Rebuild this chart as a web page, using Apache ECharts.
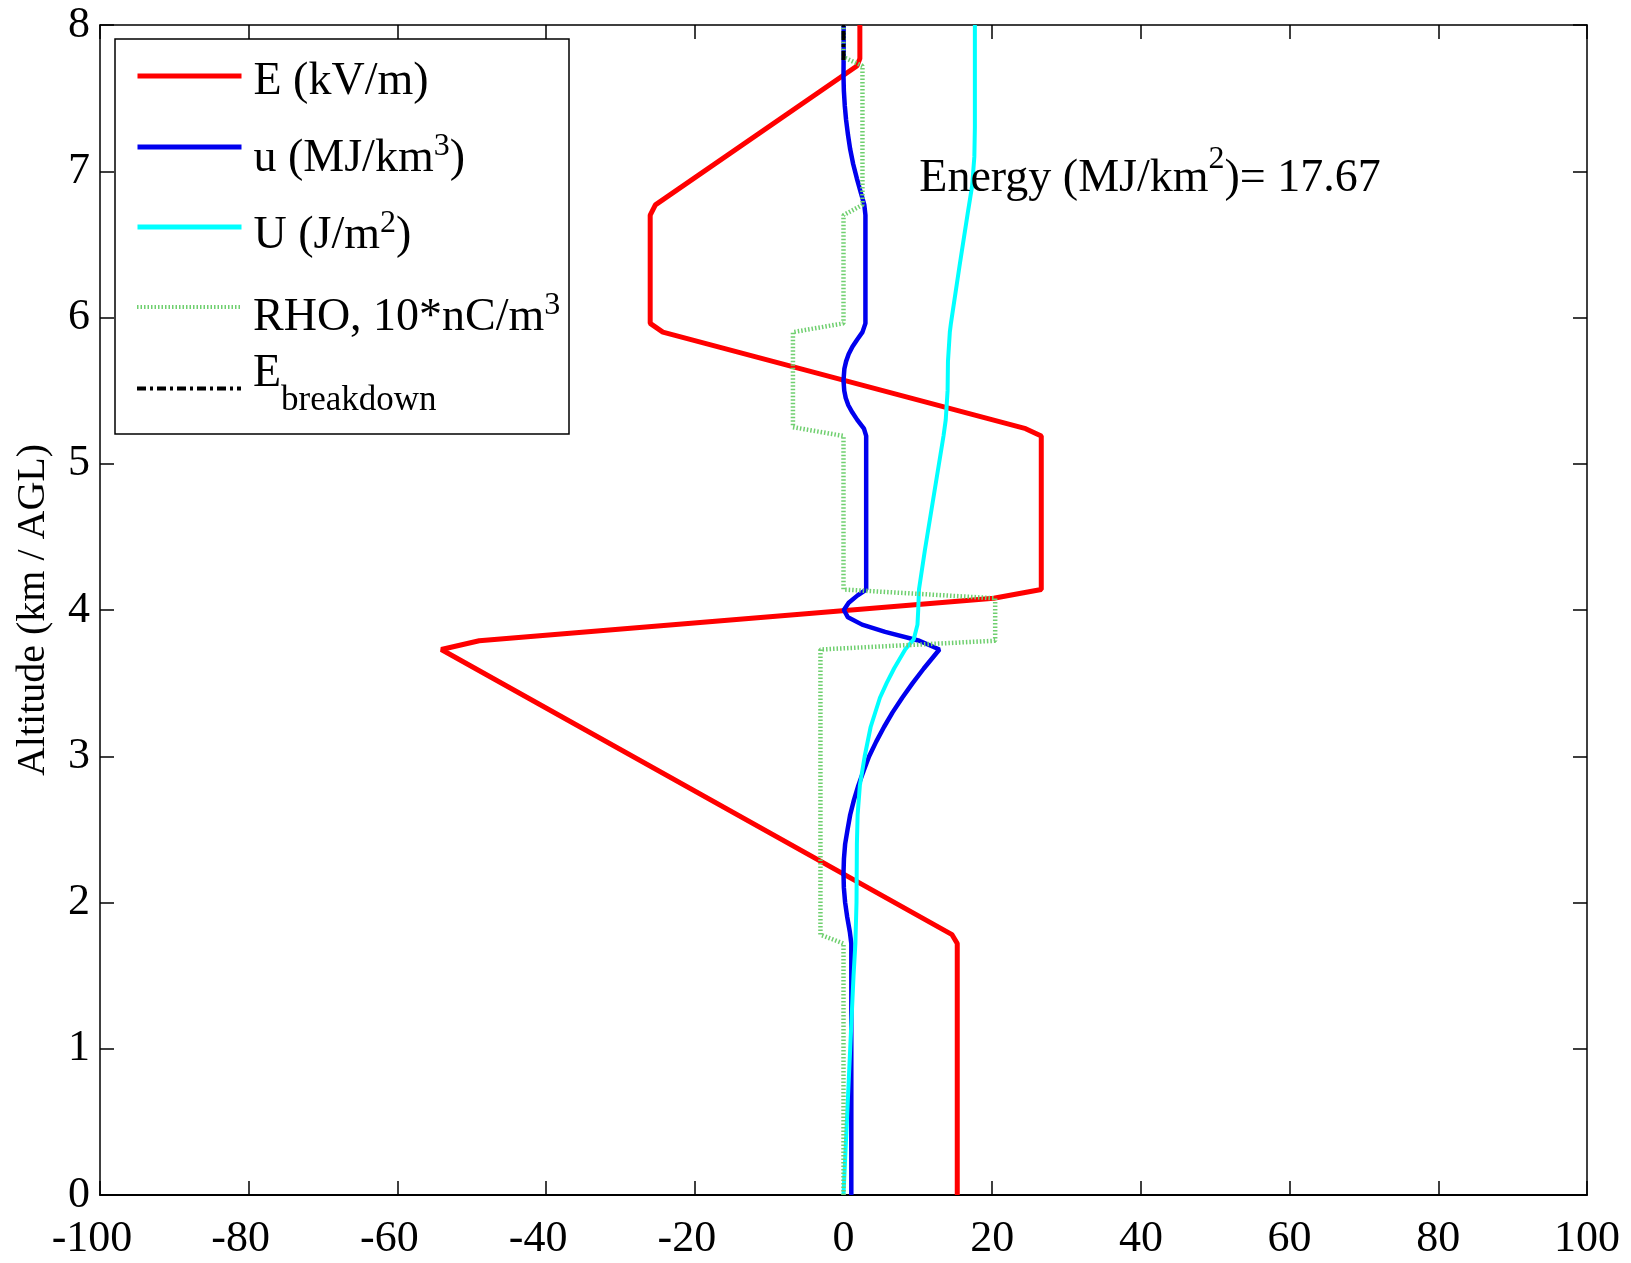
<!DOCTYPE html>
<html>
<head>
<meta charset="utf-8">
<title>Altitude profile: E, u, U, RHO</title>
<script src="https://cdn.jsdelivr.net/npm/echarts@6/dist/echarts.min.js"></script>
<style>
  html, body { margin: 0; padding: 0; background: #fff; }
  #chart { width: 1631px; height: 1263px; }
</style>
</head>
<body>
<div id="chart"></div>
<script>
// ---- Axis ticks ----
const xTicks = [-100, -80, -60, -40, -20, 0, 20, 40, 60, 80, 100];
const yTicks = [0, 1, 2, 3, 4, 5, 6, 7, 8];

// ---- Electric field E (kV/m) vs altitude (km) ----
const altE = [0, 1.72, 1.78, 3.73, 3.79, 4.08, 4.14, 5.19, 5.24, 5.90, 5.96, 6.70, 6.77, 7.72, 7.77, 8.0];
const valE = [15.3, 15.3, 14.6, -54.1, -49.0, 20.2, 26.6, 26.6, 24.5, -24.3, -26.0, -26.0, -25.3, 1.8, 2.2, 2.2];

// ---- Energy density u (MJ/km^3) ----
const altEnergyDensity = [0, 1.72, 1.80, 1.90, 2.00, 2.10, 2.20, 2.30, 2.40, 2.50,
  2.60, 2.70, 2.80, 2.90, 3.00, 3.10, 3.20, 3.30, 3.40, 3.50,
  3.60, 3.73, 3.79, 3.85, 3.90, 3.95, 4.00, 4.05, 4.10, 4.14,
  5.19, 5.24, 5.30, 5.35, 5.40, 5.45, 5.50, 5.57, 5.65, 5.70,
  5.75, 5.80, 5.85, 5.90, 5.96, 6.70, 6.77, 6.85, 6.95, 7.05,
  7.15, 7.25, 7.35, 7.45, 7.55, 7.65, 7.80, 8.0];
const valEnergyDensity = [1.05, 1.05, 0.85, 0.50, 0.22, 0.05, 0.0, 0.06, 0.22, 0.55,
  0.90, 1.40, 2.00, 2.70, 3.45, 4.40, 5.45, 6.60, 7.90, 9.30,
  10.8, 12.9, 10.2, 5.6, 2.5, 0.6, 0.05, 0.7, 1.9, 3.05,
  3.05, 2.75, 1.85, 1.20, 0.65, 0.30, 0.10, 0.0, 0.12, 0.35,
  0.70, 1.20, 1.85, 2.55, 2.95, 2.95, 2.80, 2.35, 1.80, 1.30,
  0.90, 0.60, 0.35, 0.17, 0.05, 0.0, 0.02, 0.02];

// ---- Cumulative energy U (J/m^2) ----
const altEnergy = [0, 0.5, 1.0, 1.5, 1.72, 2.0, 2.4, 2.6, 2.8, 3.0,
  3.2, 3.4, 3.5, 3.6, 3.73, 3.8, 3.9, 4.0, 4.14, 4.41,
  5.19, 5.3, 5.5, 5.7, 5.9, 5.96, 6.35, 6.71, 6.9, 7.1,
  7.3, 8.0];
const valEnergy = [0.0, 0.45, 0.9, 1.35, 1.6, 1.75, 1.8, 1.9, 2.2, 2.85,
  3.65, 4.9, 5.8, 6.8, 8.3, 9.45, 9.95, 10.05, 10.15, 10.95,
  13.45, 13.75, 14.0, 14.05, 14.3, 14.45, 15.6, 16.7, 17.3, 17.6,
  17.67, 17.67];

// ---- Charge density RHO (10*nC/m^3) ----
const altRho = [0, 1.72, 1.78, 3.73, 3.79, 4.08, 4.14, 5.19, 5.25, 5.90, 5.96, 6.70, 6.77, 7.72, 7.78, 8.0];
const valRho = [0, 0, -3.1, -3.1, 20.4, 20.4, 0, 0, -6.8, -6.8, 0, 0, 2.55, 2.55, 0, 0];

// ---- Breakdown field (only the top stretch falls inside the x range) ----
const altBreakdown = [7.76, 8.0];
const valBreakdown = [0, 0];

// ---- Total energy note, anchored in data coordinates ----
const totalEnergy = '17.67';
const notePosition = [10.2, 6.95];

const FONT = "'Liberation Serif', 'Times New Roman', serif";

function pairs(vals, alts) {
  return vals.map(function (v, i) { return [v, alts[i]]; });
}

const names = {
  E: 'E (kV/m)',
  u: 'u (MJ/km3)',
  U: 'U (J/m2)',
  rho: 'RHO, 10*nC/m3',
  eb: 'Ebreakdown'
};
const legendText = {};
legendText[names.E] = 'E (kV/m)';
legendText[names.u] = 'u (MJ/km{sup|3})';
legendText[names.U] = 'U (J/m{sup|2})';
legendText[names.rho] = 'RHO, 10*nC/m{sup|3}';
legendText[names.eb] = 'E{sub|breakdown}';

// One legend block per entry so every row sits at its own height
function legendEntry(name, top, padding, width) {
  return {
    data: [name],
    left: 135,
    top: top,
    orient: 'vertical',
    padding: 0,
    itemWidth: 104,
    itemHeight: 10,
    selectedMode: false,
    lineStyle: { width: width },
    itemStyle: { opacity: 0 },
    formatter: function (n) { return legendText[n]; },
    textStyle: {
      fontFamily: FONT,
      fontSize: 46,
      color: '#000',
      lineHeight: 56,
      padding: padding,
      rich: {
        sup: { fontFamily: FONT, fontSize: 32, lineHeight: 32, color: '#000', padding: [0, 0, 24, 0] },
        sub: { fontFamily: FONT, fontSize: 35, lineHeight: 35, color: '#000', padding: [54, 0, 0, 0] }
      }
    },
    z: 6
  };
}

const axisCommonX = {
  type: 'value',
  min: xTicks[0],
  max: xTicks[xTicks.length - 1],
  interval: xTicks[1] - xTicks[0],
  splitLine: { show: false },
  axisTick: { show: true, inside: true, length: 14, lineStyle: { color: '#000', width: 1.5 } }
};
const axisCommonY = {
  type: 'value',
  min: yTicks[0],
  max: yTicks[yTicks.length - 1],
  interval: yTicks[1] - yTicks[0],
  splitLine: { show: false },
  axisTick: { show: true, inside: true, length: 14, lineStyle: { color: '#000', width: 1.5 } }
};

const legendFrame = {
  id: 'legendFrame',
  type: 'rect',
  shape: { x: 115, y: 39, width: 454, height: 395 },
  style: { fill: '#fff', stroke: '#000', lineWidth: 1.5 },
  z: 5
};

const chart = echarts.init(document.getElementById('chart'), null, { renderer: 'canvas' });

chart.setOption({
  backgroundColor: '#fff',
  animation: false,
  grid: { left: 100, right: 44, top: 25, bottom: 68, containLabel: false },
  xAxis: [
    Object.assign({}, axisCommonX, {
      position: 'bottom',
      axisLine: { show: true, onZero: false, lineStyle: { color: '#000', width: 2 } },
      axisLabel: {
        show: true,
        margin: 22,
        color: '#000',
        fontFamily: FONT,
        fontSize: 44,
        formatter: function (v) {
          return v < 0 ? '{neg|' + v + '}' : String(v);
        },
        rich: {
          neg: { fontFamily: FONT, fontSize: 44, color: '#000', padding: [0, 16, 0, 0] }
        }
      }
    }),
    Object.assign({}, axisCommonX, {
      position: 'top',
      axisLine: { show: true, onZero: false, lineStyle: { color: '#000', width: 1.5 } },
      axisLabel: { show: false }
    })
  ],
  yAxis: [
    Object.assign({}, axisCommonY, {
      position: 'left',
      name: 'Altitude (km / AGL)',
      nameLocation: 'middle',
      nameRotate: 90,
      nameGap: 47,
      nameTextStyle: { fontFamily: FONT, fontSize: 40, color: '#000' },
      axisLine: { show: true, onZero: false, lineStyle: { color: '#000', width: 1.5 } },
      axisLabel: { show: true, margin: 10, color: '#000', fontFamily: FONT, fontSize: 44 }
    }),
    Object.assign({}, axisCommonY, {
      position: 'right',
      axisLine: { show: true, onZero: false, lineStyle: { color: '#000', width: 1.5 } },
      axisLabel: { show: false }
    })
  ],
  legend: [
    legendEntry(names.E, 42, [12, 0, 0, 7], 5),
    legendEntry(names.u, 107, [24, 0, 0, 7], 5),
    legendEntry(names.U, 190, [18, 0, 0, 7], 5),
    legendEntry(names.rho, 268, [22, 0, 0, 7], 4),
    legendEntry(names.eb, 329, [0, 0, 30, 7], 4)
  ],
  graphic: [legendFrame],
  series: [
    {
      name: names.E, type: 'line', data: pairs(valE, altE),
      symbol: 'none', showSymbol: false, clip: true,
      lineStyle: { color: '#ff0000', width: 5 }, itemStyle: { color: '#ff0000' }, z: 2
    },
    {
      name: names.u, type: 'line', data: pairs(valEnergyDensity, altEnergyDensity),
      symbol: 'none', showSymbol: false, clip: true,
      lineStyle: { color: '#0000ee', width: 4.5 }, itemStyle: { color: '#0000ee' }, z: 3
    },
    {
      name: names.U, type: 'line', data: pairs(valEnergy, altEnergy),
      symbol: 'none', showSymbol: false, clip: true,
      lineStyle: { color: '#00ffff', width: 4 }, itemStyle: { color: '#00ffff' }, z: 4
    },
    {
      name: names.rho, type: 'line', data: pairs(valRho, altRho),
      symbol: 'none', showSymbol: false, clip: true,
      lineStyle: { color: '#6fcf6f', width: 4.5, type: [1.5, 2] }, itemStyle: { color: '#6fcf6f' }, z: 5
    },
    {
      name: names.eb, type: 'line', data: pairs(valBreakdown, altBreakdown),
      symbol: 'none', showSymbol: false, clip: true,
      lineStyle: { color: '#000', width: 4, type: [9, 4, 3, 4] }, itemStyle: { color: '#000' }, z: 6
    }
  ]
});

// Place the energy note at its data position once the grid is laid out
const notePx = chart.convertToPixel({ xAxisIndex: 0, yAxisIndex: 0 }, notePosition);
chart.setOption({
  graphic: [
    legendFrame,
    {
      id: 'energyNote',
      type: 'text',
      x: notePx[0],
      y: notePx[1],
      z: 7,
      style: {
        text: 'Energy (MJ/km{sup|2})= ' + totalEnergy,
        fill: '#000',
        fontFamily: FONT,
        fontSize: 46,
        lineHeight: 60,
        align: 'left',
        verticalAlign: 'middle',
        rich: {
          sup: { fontFamily: FONT, fontSize: 32, lineHeight: 32, fill: '#000', padding: [0, 0, 38, 0] }
        }
      }
    }
  ]
});
</script>
</body>
</html>
